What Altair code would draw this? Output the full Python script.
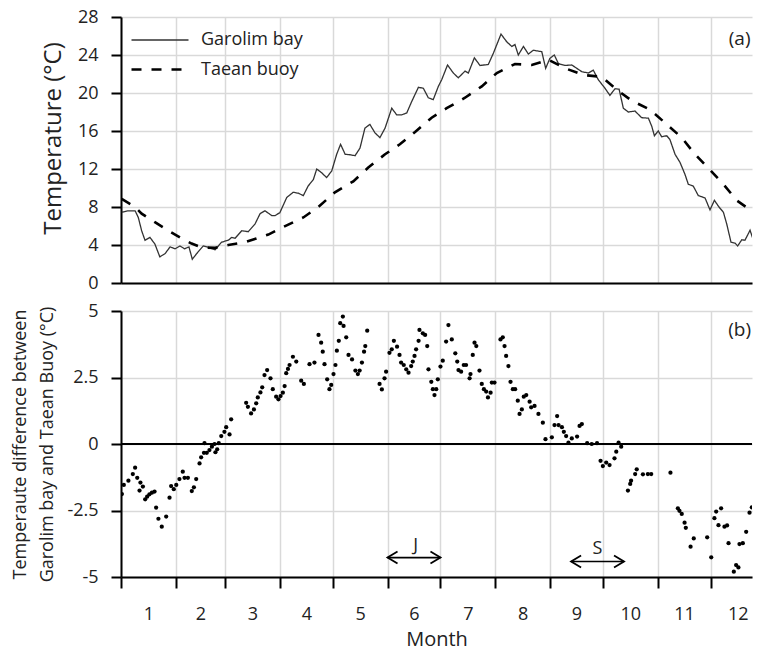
import altair as alt
import pandas as pd

# ---------------- data ----------------
month_starts = [0, 31, 59, 90, 120, 151, 181, 212, 243, 273, 304, 334]
month_mids = [15.5, 45, 74.5, 105, 135.5, 166, 196.5, 227.5, 258, 288.5, 319, 349.5]
month_labels = [str(i) for i in range(1, 13)]

series_names = ["Garolim bay", "Taean buoy"]

garolim_day = [0.4, 4, 8, 9.8, 11.7, 13.6, 16.4, 19.2, 22, 25, 27.8, 30.6, 33.4, 36, 38.5, 40.4,
               42.9, 46.6, 49.5, 53.3, 57, 60.8, 62.7, 64.6, 68.4, 72.1, 75.9, 78.8, 81.6, 85.4,
               87.3, 90, 93.9, 97.6, 100.5, 103.3, 106, 109, 110.9, 113.7, 116.5, 119.4, 122.2,
               124.4, 127, 129.7, 132.6, 135.4, 138.2, 141, 143.9, 146.7, 149.6, 153.4, 156.2,
               159, 161.9, 164.7, 168.5, 171.3, 174.1, 176.9, 179.8, 181.7, 185, 188.3, 191.1,
               194.9, 196.8, 200.2, 203.4, 208.1, 211, 215.3, 218.5, 221.4, 223.2, 225.1, 228,
               230.8, 233.6, 238.4, 240.6, 243, 245.5, 247.8, 251.6, 255.4, 258.2, 261, 264.8,
               267.6, 270.4, 274.2, 277, 279.9, 282.2, 284.6, 287.4, 291.2, 295, 298.8, 300.7,
               302.2, 304.4, 306.3, 309.2, 311, 313.9, 316.7, 319.5, 321.4, 324.2, 327.1, 330.9,
               333.7, 336.2, 338.8, 341.3, 343.2, 345.6, 347.9, 349.4, 351.7, 353.5, 356.4,
               358.3, 360.2, 362.4]
garolim_temp = [7.45, 7.6, 7.6, 6.9, 5.5, 4.5, 4.8, 4.1, 2.75, 3.1, 3.8, 3.6, 3.9, 3.6, 3.8, 2.5,
                3.1, 3.9, 3.75, 3.5, 4.3, 4.5, 4.8, 4.7, 5.5, 5.4, 6.2, 7.3, 7.6, 7.1,
                7.1, 7.4, 9.0, 9.55, 9.45, 9.2, 10.2, 10.9, 12.0, 11.6, 11.1, 11.8, 13.55,
                14.6, 13.55, 13.5, 13.4, 14.2, 16.3, 16.7, 15.8, 15.3, 16.3, 18.4, 17.7,
                17.7, 17.9, 19.1, 20.6, 20.5, 19.5, 19.3, 20.7, 21.4, 22.95, 22.1, 21.6,
                22.3, 22.1, 23.7, 22.9, 23.0, 24.2, 26.2, 25.4, 24.9, 25.1, 24.0, 24.9,
                24.1, 24.5, 24.35, 22.6, 23.65, 24.0, 23.1, 22.9, 22.95, 22.6, 22.25, 22.1,
                22.4, 21.4, 20.5, 19.75, 20.45, 20.4, 18.4, 18.0, 18.1, 17.4, 17.35, 16.5,
                15.5, 16.0, 15.4, 15.5, 15.1, 13.55, 12.7, 11.45, 10.4, 10.2, 9.2, 8.95,
                7.7, 8.7, 8.0, 7.45, 6.2, 4.3, 4.2, 3.9, 4.55, 4.5, 5.55,
                4.5, 3.7, 4.5]

taean_day = [0.4, 8, 11.7, 19.2, 27.8, 33.4, 40, 45.7, 53.3, 60.8, 70.2, 83.5, 92, 103.3, 111.8,
             121.2, 131.6, 140.1, 149.6, 158, 166.6, 176, 184.5, 194.9, 204.4, 212.9, 223.2,
             232.7, 242.1, 251.6, 262, 272.3, 280.8, 289.3, 299.7, 309.2, 317.7, 325.2, 333.7,
             341.3, 348.8, 358.3, 362]
taean_temp = [8.85, 8.0, 7.3, 6.4, 5.4, 4.8, 4.15, 3.75, 3.7, 4.0, 4.3, 5.1, 5.9, 6.9, 8.0,
              9.55, 10.7, 12.15, 13.55, 14.6, 15.9, 17.4, 18.4, 19.5, 20.7, 22.1, 23.05,
              22.95, 23.5, 22.6, 21.9, 21.7, 20.35, 19.2, 18.25, 16.7, 15.3, 13.55, 11.9,
              10.4, 8.7, 7.45, 7.2]

diff_day = [0.5, 1.6, 4.2, 6.7, 8.0, 9.2, 10.5, 11.0, 12.4, 13.7, 14.8, 16.1, 17.5, 19.0, 19.9,
            21.2, 23.1, 25.6, 27.5, 28.4, 29.9, 31.3, 33.1, 35.0, 36.0, 37.9, 40.1, 41.3, 42.6,
            44.5, 45.4, 47.0, 47.3, 48.6, 50.1, 51.5, 53.0, 53.5, 54.5, 55.4, 56.8, 58.6, 59.6,
            61.5, 62.4, 70.9, 71.9, 73.7, 75.3, 76.6, 77.5, 79.0, 80.0, 81.3, 82.8, 84.7, 86.0,
            87.9, 89.2, 90.4, 91.7, 92.7, 93.6, 94.6, 95.5, 97.4, 99.3, 102.1, 103.6, 106.8,
            109.6, 111.9, 113.4, 114.3, 115.3, 116.8, 118.1, 119.1, 120.4, 121.5, 122.3, 123.4,
            124.2, 125.7, 126.1, 127.6, 128.9, 130.9, 132.8, 134.2, 135.2, 136.5, 137.7, 138.4,
            139.5, 146.5, 147.8, 149.3, 150.2, 152.1, 153.4, 154.6, 156.4, 157.8, 158.7, 160.2,
            161.6, 162.9, 164.4, 165.3, 166.3, 167.2, 168.6, 169.1, 171.0, 172.3, 173.5, 174.2,
            175.8, 176.7, 177.6, 178.6, 179.5, 181.0, 182.3, 184.2, 185.5, 187.4, 189.4, 190.5,
            191.2, 192.7, 194.2, 195.5, 197.5, 198.0, 199.3, 200.3, 201.3, 203.1, 204.4, 205.6,
            206.9, 207.9, 209.4, 210.1, 211.6, 215.0, 216.3, 217.3, 218.2, 219.5, 220.7, 222.0,
            223.3, 224.8, 225.8, 227.1, 228.2, 229.6, 231.5, 232.4, 234.3, 236.5, 239.0, 240.5,
            244.1, 245.6, 247.1, 247.9, 249.8, 250.9, 252.2, 253.5, 255.4, 258.4, 259.8, 261.1,
            264.1, 266.7, 269.7, 271.7, 273.0, 274.9, 276.8, 279.6, 280.6, 281.9, 283.4, 287.2,
            288.5, 289.0, 291.3, 292.2, 295.7, 298.5, 300.4, 311.3, 315.5, 316.4, 317.7, 319.3,
            320.0, 322.7, 324.5, 332.1, 334.4, 336.2, 337.2, 338.5, 340.0, 341.9, 343.4, 344.2,
            347.2, 348.5, 349.8, 350.4, 352.3, 354.2, 356.1, 357.4, 360.4, 361.8]
diff_value = [-1.88, -1.54, -1.38, -1.13, -0.89, -1.27, -1.75, -1.45, -1.6, -2.08, -1.98, -1.89,
              -1.83, -1.79, -2.39, -2.81, -3.11, -2.73, -2.02, -1.58, -1.7, -1.54, -1.32, -1.04,
              -1.27, -1.27, -1.77, -1.63, -1.32, -0.73, -0.5, -0.33, 0.03, -0.33, -0.23, -0.1,
              0.0, -0.31, -0.2, 0.03, 0.3, 0.46, 0.63, 0.36, 0.93, 1.55, 1.4, 1.15, 1.3, 1.53,
              1.75, 1.94, 2.13, 2.59, 2.78, 2.47, 2.06, 1.78, 1.68, 1.8, 1.93, 2.18, 2.66, 2.82,
              2.97, 3.28, 3.1, 2.38, 2.26, 3.0, 3.06, 4.1, 3.81, 3.47, 3.0, 2.43, 2.06, 2.22,
              2.63, 2.97, 3.51, 3.88, 4.54, 4.79, 4.44, 4.01, 3.35, 3.18, 2.76, 2.63, 2.76, 3.06,
              3.47, 3.68, 4.26, 2.26, 2.05, 2.47, 2.72, 3.43, 3.56, 3.88, 3.66, 3.35, 3.06, 2.97,
              2.81, 2.68, 2.93, 3.1, 3.31, 3.56, 3.88, 4.29, 4.16, 4.1, 3.68, 2.81, 2.34, 2.06,
              1.84, 2.06, 2.43, 2.91, 3.13, 3.85, 4.47, 3.93, 3.41, 3.1, 2.78, 2.72, 2.97, 2.97,
              2.47, 2.63, 3.35, 3.81, 3.68, 2.76, 2.26, 2.06, 1.97, 1.75, 1.93, 2.31, 2.31, 3.93,
              4.01, 3.68, 3.31, 2.93, 2.34, 2.06, 2.06, 1.63, 1.13, 1.3, 1.78, 1.84, 1.59, 1.38,
              1.43, 1.13, 0.8, 0.18, 0.25, 0.71, 1.05, 0.71, 0.63, 0.46, 0.3, 0.05, 0.21, 0.28,
              0.68, 0.75, 0.03, 0.0, 0.03, -0.63, -0.83, -0.7, -0.79, -0.54, -0.29, 0.05, -0.1,
              -1.75, -1.5, -1.38, -1.13, -0.95, -1.14, -1.13, -1.13, -1.08, -2.42, -2.51, -2.63,
              -2.96, -3.15, -3.86, -3.55, -3.51, -4.26, -2.79, -2.54, -3.05, -2.42, -3.11, -3.06,
              -3.73, -4.8, -4.55, -4.64, -3.76, -3.73, -3.3, -2.58, -2.38, -3.55, -3.21]

arrow_label = ["J", "S"]
arrow_start = [151, 255]
arrow_end = [181, 285]
arrow_y = [-4.27, -4.42]
arrow_label_day = [167, 270]
arrow_label_y = [-3.83, -3.95]

panel_tag = ["(a)", "(b)"]
panel_tag_day = [350.5, 350.5]
panel_tag_y = [25.7, 4.29]

# ---------------- tables ----------------
lines_df = pd.concat([
    pd.DataFrame({"day": garolim_day, "value": garolim_temp, "series": series_names[0]}),
    pd.DataFrame({"day": taean_day, "value": taean_temp, "series": series_names[1]}),
])
diff_df = pd.DataFrame({"day": diff_day, "value": diff_value})
arrow_df = pd.DataFrame({"label": arrow_label, "day": arrow_start, "day2": arrow_end, "value": arrow_y})
arrow_text_df = pd.DataFrame({"label": arrow_label, "day": arrow_label_day, "value": arrow_label_y})
tag_a_df = pd.DataFrame({"label": [panel_tag[0]], "day": [panel_tag_day[0]], "value": [panel_tag_y[0]]})
tag_b_df = pd.DataFrame({"label": [panel_tag[1]], "day": [panel_tag_day[1]], "value": [panel_tag_y[1]]})

# ---------------- styling ----------------
FONT = "Open Sans"
TXT = "#222222"
GRID = "#d9d9d9"
W = 631
H_TOP = 266
H_BOT = 266
X_END = 357.5

starts_js = "[" + ",".join(str(v) for v in month_starts) + "]"
mids_js = "[" + ",".join(str(v) for v in month_mids) + "]"
labels_js = "[" + ",".join("'" + s + "'" for s in month_labels) + "]"
is_start = f"indexof({starts_js}, datum.value) >= 0"
label_expr = (f"indexof({mids_js}, datum.value) >= 0 ? "
              f"{labels_js}[indexof({mids_js}, datum.value)] : ''")

x_scale = alt.Scale(domain=[0, X_END], nice=False, zero=False)

x_axis_top = alt.Axis(values=month_starts, labels=False, ticks=False, grid=True,
                      gridColor=GRID, gridWidth=1.5, domainColor="black", domainWidth=2,
                      title=None)
x_axis_bot = alt.Axis(values=sorted(month_starts + month_mids), labelExpr=label_expr,
                      grid=True, gridColor=GRID, gridWidth=1.5,
                      gridOpacity={"condition": {"test": is_start, "value": 1}, "value": 0},
                      tickOpacity={"condition": {"test": is_start, "value": 1}, "value": 0},
                      tickSize=11, tickWidth=2, tickColor="black",
                      domainColor="black", domainWidth=2,
                      labelFontSize=18, labelColor=TXT, labelPadding=17,
                      labelOverlap=False, labelFlush=False,
                      title="Month", titleFontSize=20, titleFontWeight="normal",
                      titleColor=TXT, titlePadding=6)

y_axis_top = alt.Axis(values=list(range(0, 29, 4)), grid=True, gridColor=GRID, gridWidth=1.5,
                      domainColor="black", domainWidth=2, tickColor="black", tickWidth=2,
                      tickSize=10, labelFontSize=18, labelColor=TXT, labelPadding=13,
                      title="Temperature (°C)", titleFontSize=24, titleFontWeight="normal",
                      titleColor=TXT, titleX=-56, titleY=121)
y_axis_bot = alt.Axis(values=[-5, -2.5, 0, 2.5, 5], grid=True, gridColor=GRID, gridWidth=1.5,
                      labelExpr="(datum.value < 0 ? '-' : '') + format(abs(datum.value), '')",
                      domainColor="black", domainWidth=2, tickColor="black", tickWidth=2,
                      tickSize=10, labelFontSize=18, labelColor=TXT, labelPadding=13,
                      title=["Temperaute difference between", "Garolim bay and Taean Buoy (°C)"],
                      titleFontSize=18, titleLineHeight=27, titleFontWeight="normal",
                      titleColor=TXT, titleX=-92)

y_scale_top = alt.Scale(domain=[0, 28], nice=False)
y_scale_bot = alt.Scale(domain=[-5, 5], nice=False)

X_TOP = alt.X("day:Q", scale=x_scale, axis=x_axis_top)
Y_TOP = alt.Y("value:Q", scale=y_scale_top, axis=y_axis_top)
X_BOT = alt.X("day:Q", scale=x_scale, axis=x_axis_bot)
Y_BOT = alt.Y("value:Q", scale=y_scale_bot, axis=y_axis_bot)

legend = alt.Legend(title=None, orient="none", legendX=28, legendY=12.5, padding=0,
                    symbolType="M-3,0L3,0", symbolSize=361, labelOffset=30, rowPadding=9,
                    labelFontSize=18, labelColor=TXT, labelFont=FONT, symbolFillColor="transparent")

lines = alt.Chart(lines_df).mark_line(interpolate="linear", clip=True).encode(
    x=X_TOP, y=Y_TOP,
    color=alt.Color("series:N", scale=alt.Scale(domain=series_names, range=["#333333", "#000000"]),
                    legend=legend),
    strokeDash=alt.StrokeDash("series:N", scale=alt.Scale(domain=series_names, range=[[1, 0], [10, 10]]),
                              legend=legend),
    strokeWidth=alt.StrokeWidth("series:N", scale=alt.Scale(domain=series_names, range=[1.3, 2.6]),
                                legend=legend),
    order=alt.Order("day:Q"),
)
tag_a = alt.Chart(tag_a_df).mark_text(fontSize=19, color=TXT, font=FONT).encode(
    x=X_TOP, y=Y_TOP, text="label:N")

top = alt.layer(lines, tag_a).properties(width=W, height=H_TOP)

zero = alt.Chart(pd.DataFrame({"value": [0]})).mark_rule(color="black", strokeWidth=2).encode(y=Y_BOT)
dots = alt.Chart(diff_df).mark_circle(size=18, color="black", opacity=1, clip=True).encode(
    x=X_BOT, y=Y_BOT)
arrow_line = alt.Chart(arrow_df).mark_rule(color="black", strokeWidth=1.6).encode(
    x=X_BOT, x2="day2:Q", y=Y_BOT)
head_left = alt.Chart(arrow_df).mark_point(shape="M1,-0.6L0,0L1,0.6", size=400, filled=False,
                                          color="black", strokeWidth=1.8, opacity=1).encode(
    x=X_BOT, y=Y_BOT)
head_right = alt.Chart(arrow_df).mark_point(shape="M-1,-0.6L0,0L-1,0.6", size=400, filled=False,
                                           color="black", strokeWidth=1.8, opacity=1).encode(
    x=alt.X("day2:Q", scale=x_scale, axis=x_axis_bot), y=Y_BOT)
arrow_text = alt.Chart(arrow_text_df).mark_text(fontSize=18, color=TXT, font=FONT).encode(
    x=X_BOT, y=Y_BOT, text="label:N")
tag_b = alt.Chart(tag_b_df).mark_text(fontSize=19, color=TXT, font=FONT).encode(
    x=X_BOT, y=Y_BOT, text="label:N")

bottom = alt.layer(zero, dots, arrow_line, head_left, head_right, arrow_text, tag_b).properties(
    width=W, height=H_BOT)

chart = alt.vconcat(top, bottom, spacing=10).properties(
    padding={"left": 2, "top": 0, "right": 0, "bottom": -3}
).configure(font=FONT).configure_view(stroke=None)

chart.save("out.html", embed_options={"renderer": "svg", "actions": False})
